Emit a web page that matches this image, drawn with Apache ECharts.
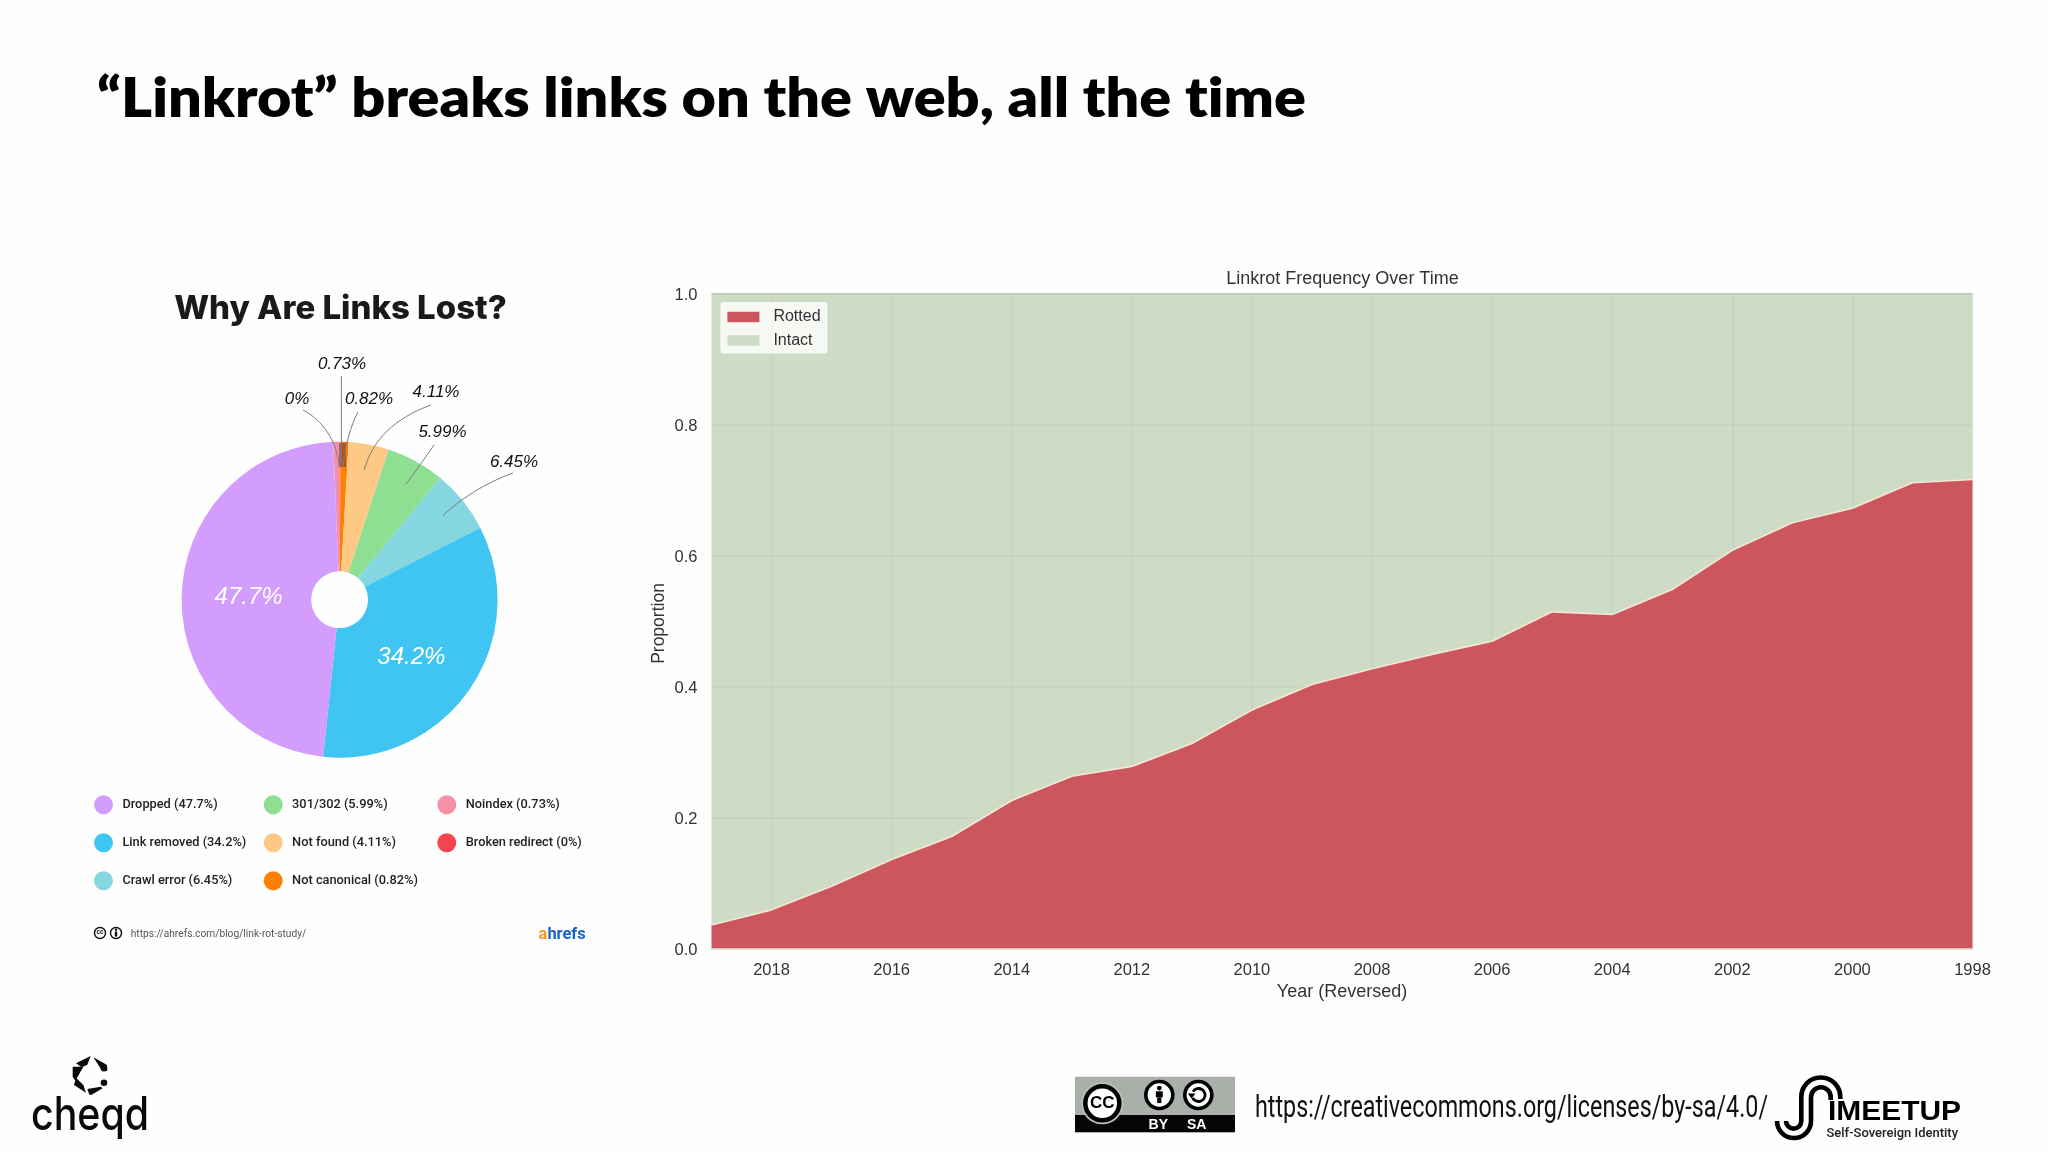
<!DOCTYPE html>
<html><head><meta charset="utf-8">
<style>html,body{margin:0;padding:0;background:#fefefe}#c{width:2048px;height:1152px}</style>
<script src="https://cdn.jsdelivr.net/npm/echarts@6/dist/echarts.min.js"></script>
</head><body><div id="c"></div>
<script>
const years = ['2019','2018','2017','2016','2015','2014','2013','2012','2011','2010','2009','2008','2007','2006','2005','2004','2003','2002','2001','2000','1999','1998'];
const rotted = [0.036,0.059,0.095,0.136,0.171,0.226,0.263,0.278,0.313,0.364,0.403,0.427,0.449,0.469,0.514,0.510,0.548,0.608,0.650,0.672,0.711,0.716];
const intact = [0.964,0.941,0.905,0.864,0.829,0.774,0.737,0.722,0.687,0.636,0.597,0.573,0.551,0.531,0.486,0.490,0.452,0.392,0.350,0.328,0.289,0.284];
const yTicks = [0,0.2,0.4,0.6,0.8,1];

const reasons = ['Broken redirect','Noindex','Not canonical','Not found','301/302','Crawl error','Link removed','Dropped'];
const shares = [0,0.73,0.82,4.11,5.99,6.45,34.2,47.7];
const sliceColors = ['#f5444f','#f78fa7','#ff8000','#fec885','#8fdf92','#84d6e0','#40c4f2','#d29dfc'];
const legendCols = [['Dropped','Link removed','Crawl error'],['301/302','Not found','Not canonical'],['Noindex','Broken redirect']];
const labelSpots = [[297,399.5],[342,364.5],[369,399.5],[436,392.5],[442.5,432],[514,462.5],[411.4,657],[248.6,597]];

const ctx = document.createElement('canvas').getContext('2d');
function fit(text,font,w){ctx.font=font;return w/ctx.measureText(text).width;}
function fitText(text,font,x,y,w,fill){
  return {type:'text',x:x,y:y,scaleX:fit(text,font,w),z:10,style:{text:text,font:font,fill:fill||'#000',textAlign:'left',textVerticalAlign:'middle'}};
}
function curve(x1,y1,c1x,c1y,c2x,c2y,x2,y2){
  return {type:'bezierCurve',z:11,shape:{x1,y1,cpx1:c1x,cpy1:c1y,cpx2:c2x,cpy2:c2y,x2,y2},style:{stroke:'#7d7d7d',lineWidth:1,fill:null}};
}
function poly(pts,fill){
  return {type:'polygon',z:10,shape:{points:pts},style:{fill:fill||'#0a0a0a'}};
}
function circ(cx,cy,r,fill,stroke,lw){
  return {type:'circle',z:10,shape:{cx,cy,r},style:{fill:fill,stroke:stroke||null,lineWidth:lw||0}};
}
function rect(x,y,width,height,fill,z){
  return {type:'rect',z:z||10,shape:{x,y,width,height},style:{fill:fill}};
}
function seg(x1,y1,x2,y2,lw){
  return {type:'line',z:10,shape:{x1,y1,x2,y2},style:{stroke:'#000',lineWidth:lw}};
}
function arc(cx,cy,r,a,b,lw){
  return {type:'arc',z:10,shape:{cx,cy,r,startAngle:a,endAngle:b,clockwise:true},style:{stroke:'#000',lineWidth:lw,fill:null}};
}
function centerText(text,font,x,y,fill){
  return {type:'text',x:x,y:y,z:12,style:{text,font,fill:fill||'#000',textAlign:'center',textVerticalAlign:'middle'}};
}
function person(cx,cy,s){
  return [circ(cx,cy-6*s,2.1*s,'#000'),rect(cx-3*s,cy-3.2*s,6*s,5.2*s,'#000'),rect(cx-1.8*s,cy+2*s,3.6*s,5*s,'#000')];
}
const PI = Math.PI;
const hexMap = p => p.map(q=>[q[0]/3,1030+q[1]/3]);
const graphics = [].concat(
  [fitText('\u201CLinkrot\u201D breaks links on the web, all the t\u200Cime','800 55px Lato, sans-serif',97,99,1209,'#000')],
  [rect(339,443,7,24,'rgba(110,50,60,0.55)',9),
   curve(303,410,322,420,337,440,339.3,467),
   curve(341.4,376,341.4,400,341.4,440,341.4,463),
   curve(358,412,351,425,345,445,343.2,467),
   curve(431,405,395,418,372,440,364.3,470),
   curve(434,445,425,458,415,472,405.7,484.5),
   curve(513,473,485,483,462,498,443,515.5)],
  [circ(100,933,5.5,'#fff','#111',1.4),centerText('cc','bold 6.5px Liberation Sans',100,932.6,'#111'),
   circ(116,933,5.5,'#fff','#111',1.4),rect(114.8,931.5,2.4,5,'#111'),circ(116,929.8,1.2,'#111'),
   fitText('https://ahrefs.com/blog/link-rot-study/','10px Roboto',130.7,934,175.5,'#555'),
   {type:'text',x:538.6,y:935,z:10,scaleX:fit('ahrefs','bold 16px Roboto',47),style:{text:'{a|a}{b|hrefs}',textAlign:'left',textVerticalAlign:'middle',rich:{a:{fill:'#f39a1e',font:'bold 16px Roboto'},b:{fill:'#1a5fc8',font:'bold 16px Roboto'}}}}],
  [rect(1075,1076.7,160,55.6,'#a9afa9'),rect(1075,1115,160,17.3,'#050505'),
   circ(1102.3,1103.3,21,'#bcc1bc'),circ(1102.3,1103.3,17,'#fff','#000',4.5),
   centerText('CC','900 17px Liberation Sans',1102.3,1103.5,'#000'),
   circ(1159.3,1095,13.5,'#fff','#000',3.6)],
  person(1159.3,1095,1.15).map(e=>Object.assign(e,{z:12})),
  [Object.assign(circ(1198.3,1095,13.5,'#fff','#000',3.6),{z:10}),
   Object.assign(arc(1198.6,1095,6.5,-2.6,2.7,2.8),{z:12}),
   Object.assign(poly([[1187.8,1093.5],[1195.5,1093.5],[1191.6,1098.5]],'#000'),{z:12}),
   centerText('BY','bold 14px Liberation Sans',1158.3,1125,'#fff'),
   centerText('SA','bold 14px Liberation Sans',1196.7,1125,'#fff')],
  [fitText('https://creativecommons.org/licenses/by-sa/4.0/','32px Roboto',1255,1109,513,'#111')],
  [seg(1840.3,1099,1840.3,1097,4.6),arc(1820.8,1097,19.5,PI,2*PI,4.6),seg(1801.3,1097,1801.3,1121,4.6),arc(1793.65,1121,7.65,0,PI,4.6),
   seg(1830.7,1100,1830.7,1097,4.6),arc(1820.9,1097,9.8,PI,2*PI,4.6),seg(1811,1097,1811,1121,4.6),arc(1794,1121,17,0,PI,4.6),
   fitText('IMEETUP','900 27px Liberation Sans',1828,1113,133,'#000'),
   fitText('Self-Sovereign Identity','500 13px Roboto',1826.5,1134,131.5,'#222')],
  [poly(hexMap([[228,100],[272,78],[262,104],[245,112]])),
   poly(hexMap([[280,82],[320,104],[322,122],[305,120]])),
   poly(hexMap([[218,110],[250,110],[226,152],[218,140]])),
   poly(hexMap([[228,143],[250,165],[258,188],[222,165]])),
   poly(hexMap([[262,177],[302,170],[308,175],[275,194],[268,194]])),
   circ(104,1068.3,3.3,'#0a0a0a'),circ(104,1082.7,3.3,'#0a0a0a'),
   fitText('cheqd','500 46px Inter',31,1116,118,'#0a0a0a')]
);

const chart = echarts.init(document.getElementById('c'),null,{renderer:'canvas'});
const pieLegendBase = {orient:'vertical',icon:'circle',itemWidth:19,itemHeight:19,itemGap:19,top:795.3,padding:0,selectedMode:false,
  formatter:n=>n+' ('+shares[reasons.indexOf(n)]+'%)',
  textStyle:{fontFamily:'Roboto',fontWeight:500,fontSize:12.8,color:'#222',padding:[0,0,0,4.4]}};
const everyOther = i => i % 2 === 1;
chart.setOption({
  animation:false,
  backgroundColor:'#fefefe',
  title:[
    {text:'Why Are Links Lost?',left:335.5,top:288,textAlign:'center',textStyle:{fontFamily:'Inter',fontWeight:800,fontSize:33,color:'#1a1a1a'}},
    {text:'Linkrot Frequency Over Time',left:1337.5,top:265.5,textAlign:'center',textStyle:{fontFamily:'Liberation Sans',fontWeight:400,fontSize:18,color:'#333'}}
  ],
  legend:[
    Object.assign({},pieLegendBase,{left:94,data:legendCols[0]}),
    Object.assign({},pieLegendBase,{left:263.7,data:legendCols[1]}),
    Object.assign({},pieLegendBase,{left:437.3,data:legendCols[2]}),
    {left:720.4,top:302,orient:'vertical',icon:'rect',itemWidth:32,itemHeight:10.5,itemGap:7.5,selectedMode:false,padding:[7,7,5,7],
     backgroundColor:'rgba(255,255,255,0.8)',borderRadius:3,data:['Rotted','Intact'],
     textStyle:{fontFamily:'Liberation Sans',fontSize:16,color:'#333',padding:[0,0,0,9]}}
  ],
  grid:{left:711.5,top:293.5,right:75.5,bottom:203.5,show:false,containLabel:false},
  xAxis:{type:'category',data:years,boundaryGap:false,z:3,
    name:'Year (Reversed)',nameLocation:'middle',nameGap:34,nameTextStyle:{fontFamily:'Liberation Sans',fontSize:18,color:'#333'},
    axisLine:{show:true,lineStyle:{color:'#d9d4cb',width:1.5}},axisTick:{show:false},
    axisLabel:{interval:everyOther,fontFamily:'Liberation Sans',fontSize:16.5,color:'#333',margin:13},
    splitLine:{show:true,interval:everyOther,lineStyle:{color:'rgba(80,80,60,0.05)',width:2}}},
  yAxis:{type:'value',min:yTicks[0],max:yTicks[yTicks.length-1],interval:0.2,z:3,
    name:'Proportion',nameLocation:'middle',nameGap:43,nameRotate:90,nameMoveOverlap:false,nameTextStyle:{fontFamily:'Liberation Sans',fontSize:17.5,color:'#333',padding:[0,5,0,0]},
    axisLine:{show:false},axisTick:{show:false},
    axisLabel:{formatter:v=>v.toFixed(1),fontFamily:'Liberation Sans',fontSize:16.5,color:'#333',margin:14,verticalAlign:'top',lineHeight:3},
    splitLine:{show:true,lineStyle:{color:'rgba(80,80,60,0.05)',width:2}}},
  series:[
    {name:'Rotted',type:'line',stack:'p',showSymbol:false,symbol:'none',data:rotted,
     itemStyle:{color:'#cc565e'},lineStyle:{color:'#f5e6d6',width:1.6},areaStyle:{color:'#cc565e',opacity:1},z:3},
    {name:'Intact',type:'line',stack:'p',showSymbol:false,symbol:'none',data:intact,
     itemStyle:{color:'#cfdcc5'},lineStyle:{color:'#c6cfc0',width:1.5},areaStyle:{color:'#cfdcc5',opacity:1},z:2},
    {name:'Why',type:'pie',center:[339.6,599.7],radius:[28.4,158],startAngle:92.3,clockwise:true,avoidLabelOverlap:false,
     labelLine:{show:false},z:2,
     label:{show:true,position:'outside',fontFamily:'Liberation Sans',fontStyle:'italic',fontSize:17,color:'#111',formatter:p=>p.value+'%'},
     labelLayout:p=>{const s=labelSpots[p.dataIndex];return {x:s[0],y:s[1],align:'center',verticalAlign:'middle'};},
     emphasis:{disabled:true},
     data:reasons.map((n,i)=>({name:n,value:shares[i],
       itemStyle:{color:sliceColors[i]},
       label:shares[i]>30?{color:'#fff',fontSize:24}:{}}))}
  ],
  graphic:{elements:graphics}
});
</script></body></html>
